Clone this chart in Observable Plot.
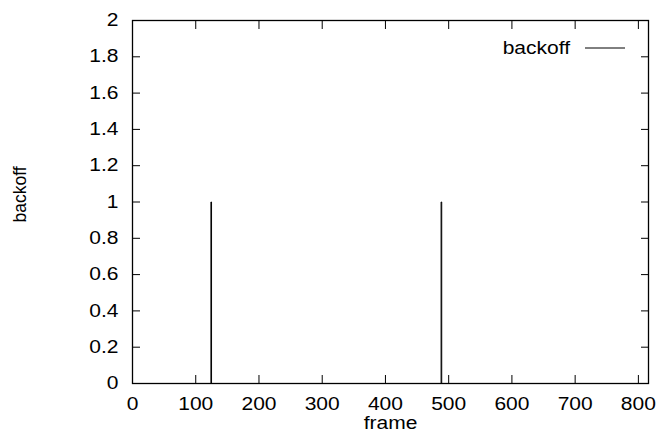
<!DOCTYPE html>
<html>
<head>
<meta charset="utf-8">
<script src="https://cdn.jsdelivr.net/npm/d3@7"></script>
<script src="https://cdn.jsdelivr.net/npm/@observablehq/plot@0.6"></script>
<style>
  body { margin: 0; background: #fff; }
</style>
</head>
<body>
<div id="chart"></div>
<script>
// backoff flag per frame (held until the next sample): zero except two short bursts
const frames  = [0, 124, 125, 488, 489, 816];
const backoff = [0,   1,   0,   1,   0,   0];

const xTicks = [0, 100, 200, 300, 400, 500, 600, 700, 800];
const yTicks = [0, 0.2, 0.4, 0.6, 0.8, 1, 1.2, 1.4, 1.6, 1.8, 2];
const seriesName = "backoff";
const xTitle = "frame";
const yTitle = "backoff";

const rows = frames.map((f, i) => ({frame: f, backoff: backoff[i]}));
const blank = () => "";

// key in the upper right corner: name followed by a line sample
const key = (index, scales, values, dims) => {
  const g = d3.create("svg:g");
  const xEnd = dims.width - dims.marginRight - 23;
  const y = dims.marginTop + 28;
  g.append("line")
    .attr("x1", xEnd - 40).attr("x2", xEnd)
    .attr("y1", y).attr("y2", y)
    .attr("stroke", "black").attr("stroke-width", 1);
  g.append("text")
    .attr("x", xEnd - 55).attr("y", y)
    .attr("dy", "0.32em")
    .attr("text-anchor", "end")
    .attr("fill", "black")
    .text(seriesName);
  return g.node();
};

const chart = Plot.plot({
  width: 659,
  height: 434,
  marginLeft: 132,
  marginRight: 11,
  marginTop: 20,
  marginBottom: 51,
  style: {
    fontFamily: "'Liberation Sans', Arial, sans-serif",
    fontSize: "17.5px",
    color: "black",
    background: "white"
  },
  x: {domain: [0, 816]},
  y: {domain: [0, 2]},
  marks: [
    // inward ticks on all four sides
    Plot.axisX(xTicks, {anchor: "bottom", tickSize: -8, tickFormat: blank, label: null}),
    Plot.axisX(xTicks, {anchor: "top", tickSize: -8, tickFormat: blank, label: null}),
    Plot.axisY(yTicks, {anchor: "left", tickSize: -8, tickFormat: blank, label: null}),
    Plot.axisY(yTicks, {anchor: "right", tickSize: -8, tickFormat: blank, label: null}),
    // tick labels
    Plot.axisX(xTicks, {anchor: "bottom", tickSize: 0, tickPadding: 14.5, tickFormat: d => String(d), label: null}),
    Plot.axisY(yTicks, {anchor: "left", tickSize: 0, tickPadding: 14, tickFormat: d => String(d), label: null}),
    // axis titles
    Plot.text([xTitle], {frameAnchor: "bottom", dy: 39.7, lineAnchor: "middle", fill: "black"}),
    Plot.text([yTitle], {frameAnchor: "left", dx: -112, dy: -7.5, rotate: -90, textAnchor: "middle",
      lineAnchor: "middle", fill: "black", className: "ytitle"}),
    Plot.line(rows, {x: "frame", y: "backoff", curve: "step-after", stroke: "black", strokeWidth: 1}),
    Plot.frame({stroke: "black", strokeWidth: 1.3}),
    key
  ]
});

document.getElementById("chart").append(chart);

// the lettering is set a little wide: stretch every horizontal label
chart.querySelectorAll("text").forEach(t => {
  if (t.closest(".ytitle")) return;
  const w = t.getComputedTextLength();
  if (w > 0) {
    t.setAttribute("textLength", (w * 1.2).toFixed(2));
    t.setAttribute("lengthAdjust", "spacingAndGlyphs");
  }
});
</script>
</body>
</html>
